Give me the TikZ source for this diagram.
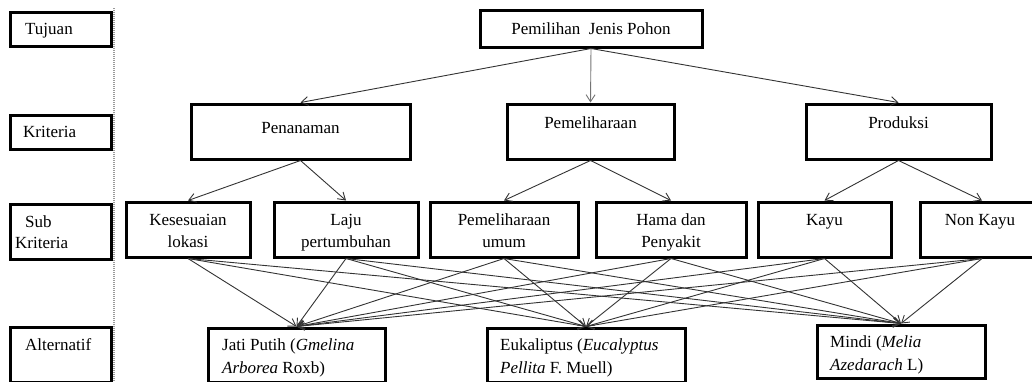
\documentclass[tikz,border=0pt]{standalone}
\usepackage{fontspec}
\setmainfont{Liberation Serif}
\usetikzlibrary{arrows.meta}
\begin{document}
\begin{tikzpicture}[x=1pt,y=-1pt,
  box/.style={draw=black,line width=3pt,rectangle,inner sep=0pt},
  txt/.style={inner sep=0pt,font=\fontsize{17}{20}\selectfont},
  conn/.style={draw=black!80,line width=0.9pt,-{Straight Barb[length=7pt,width=9pt,line width=0.9pt]}}]
\useasboundingbox (0,0) rectangle (1032,381);
\begin{scope}
\clip (0,0) rectangle (1032,381);
% left column
\node[box,minimum width=101pt,minimum height=34pt] (ltuj) at (60.5,29) {};
\node[box,minimum width=101pt,minimum height=34pt] (lkrit) at (60.5,132) {};
\node[box,minimum width=101pt,minimum height=55pt] (lsub) at (60.5,231.5) {};
\node[box,minimum width=101pt,minimum height=55pt] (lalt) at (60.5,354.5) {};
\node[txt,anchor=base west] (tltuj) at (25,34) {Tujuan};
\node[txt,anchor=base west] (tlkrit) at (23,137.5) {Kriteria};
\node[txt,anchor=base west] (tlsub1) at (25,227) {Sub};
\node[txt,anchor=base west] (tlsub2) at (15,248) {Kriteria};
\node[txt,anchor=base west] (tlalt) at (25,350) {Alternatif};
\draw[gray!80,line width=1.4pt,dash pattern=on 1.2pt off 0.8pt] (114,8) coordinate (dtop) -- (114,382) coordinate (dbot);
% goal
\node[box,minimum width=222pt,minimum height=37pt] (goal) at (591,28.5) {};
\node[txt,anchor=base] (tgoal) at (591,34) {Pemilihan\ \ Jenis Pohon};
% criteria
\node[box,minimum width=219pt,minimum height=55pt] (pen) at (300.5,131.5) {};
\node[box,minimum width=167pt,minimum height=55pt] (pem) at (590.5,131.5) {};
\node[box,minimum width=185pt,minimum height=55pt] (prod) at (898.5,131.5) {};
\node[txt,anchor=base] (tpen) at (300.5,133) {Penanaman};
\node[txt,anchor=base] (tpem) at (590.5,128) {Pemeliharaan};
\node[txt,anchor=base] (tprod) at (898.5,128) {Produksi};
% sub criteria
\node[box,minimum width=124pt,minimum height=55pt] (kes) at (188,229.5) {};
\node[box,minimum width=144pt,minimum height=55pt] (laju) at (346,229.5) {};
\node[box,minimum width=148pt,minimum height=55pt] (pu) at (504,229.5) {};
\node[box,minimum width=150pt,minimum height=55pt] (hama) at (671,229.5) {};
\node[box,minimum width=133pt,minimum height=55pt] (kayu) at (824.5,229.5) {};
\node[box,minimum width=124pt,minimum height=55pt] (nk) at (982,229.5) {};
\node[txt,anchor=base] (tkes1) at (188,225) {Kesesuaian};
\node[txt,anchor=base] (tkes2) at (188,247) {lokasi};
\node[txt,anchor=base] (tlaju1) at (346,225) {Laju};
\node[txt,anchor=base] (tlaju2) at (346,247) {pertumbuhan};
\node[txt,anchor=base] (tpu1) at (504,225) {Pemeliharaan};
\node[txt,anchor=base] (tpu2) at (504,247) {umum};
\node[txt,anchor=base] (thama1) at (671,225) {Hama dan};
\node[txt,anchor=base] (thama2) at (671,247) {Penyakit};
\node[txt,anchor=base] (tkayu) at (824.5,225) {Kayu};
\node[txt,anchor=base] (tnk) at (980,225) {Non Kayu};
% alternatives
\node[box,minimum width=177pt,minimum height=54pt] (jati) at (296.5,355) {};
\node[box,minimum width=198pt,minimum height=54pt] (euk) at (586,355) {};
\node[box,minimum width=168pt,minimum height=53pt] (mindi) at (901,351.5) {};
\node[txt,anchor=base west] (tjati1) at (222,350) {Jati Putih (\textit{Gmelina}};
\node[txt,anchor=base west] (tjati2) at (222,373) {\textit{Arborea} Roxb)};
\node[txt,anchor=base west] (teuk1) at (500,350) {Eukaliptus (\textit{Eucalyptus}};
\node[txt,anchor=base west] (teuk2) at (500,373) {\textit{Pellita} F. Muell)};
\node[txt,anchor=base west] (tmindi1) at (830,347) {Mindi (\textit{Melia}};
\node[txt,anchor=base west] (tmindi2) at (830,370) {\textit{Azedarach} L)};
% connectors
\draw[conn] (goal.south) -- (pen.north);
\draw[conn,draw=black!55] (goal.south) -- (pem.north);
\draw[conn] (goal.south) -- (prod.north);
\draw[conn] (pen.south) -- (kes.north);
\draw[conn] (pen.south) -- (laju.north);
\draw[conn] (pem.south) -- (pu.north);
\draw[conn] (pem.south) -- (hama.north);
\draw[conn] (prod.south) -- (kayu.north);
\draw[conn] (prod.south) -- (nk.north);
\foreach \s in {kes,laju,pu,hama,kayu,nk}{
  \foreach \t in {jati,euk,mindi}{
    \draw[conn] (\s.south) -- (\t.north);
  }
}
\end{scope}
\end{tikzpicture}
\end{document}
